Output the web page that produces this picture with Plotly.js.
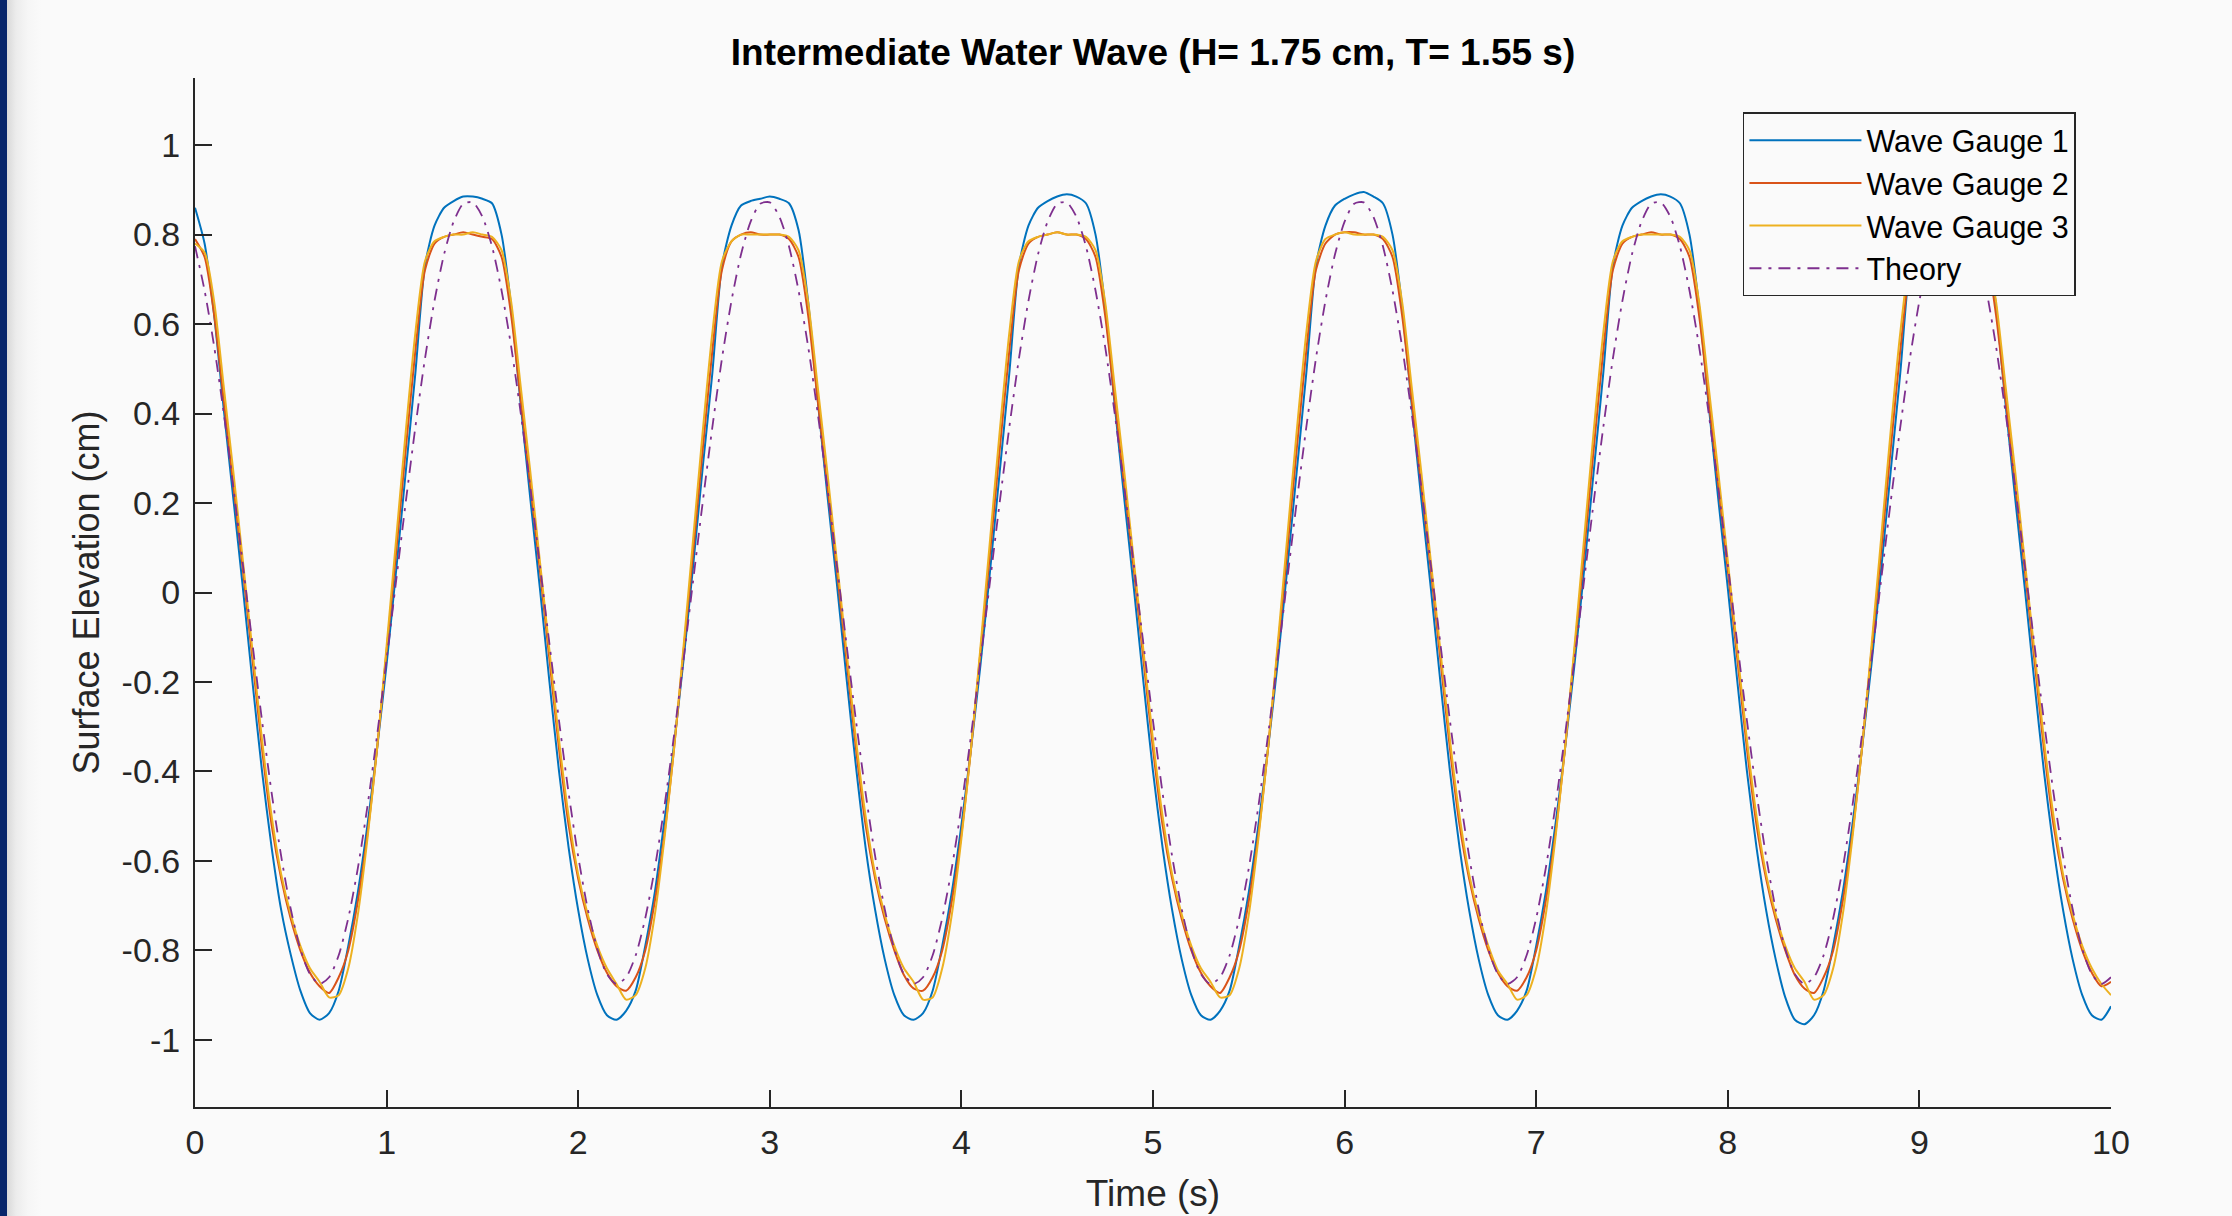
<!DOCTYPE html>
<html>
<head>
<meta charset="utf-8">
<script src="https://cdn.plot.ly/plotly-3.0.1.min.js"></script>
<style>
  html, body { margin: 0; padding: 0; }
  body {
    width: 2232px; height: 1216px; overflow: hidden;
    background: linear-gradient(to right, #08266b 0px, #08266b 7px, #d9d9d9 7px, #ececec 16px, #f6f6f6 28px, #fafafa 42px, #fafafa 100%);
  }
  #chart { width: 2232px; height: 1216px; }
</style>
</head>
<body>
<div id="chart"></div>
<script>
const sampleStep = 0.05;

const gauge1 = [
  0.86, 0.78, 0.62, 0.41, 0.21, 0.01, -0.20, -0.40, -0.57, -0.71, -0.81, -0.89, -0.94,
  -0.955, -0.94, -0.89, -0.79, -0.67, -0.52, -0.35, -0.16, 0.05, 0.27, 0.49, 0.73, 0.82, 0.86, 0.875, 0.885, 0.885, 0.88, 0.87, 0.80, 0.64, 0.42, 0.21, 0.01, -0.20, -0.40, -0.57, -0.71, -0.82, -0.90, -0.945,
  -0.955, -0.935, -0.89, -0.79, -0.67, -0.51, -0.34, -0.15, 0.06, 0.28, 0.49, 0.73, 0.82, 0.865, 0.875, 0.88, 0.885, 0.88, 0.87, 0.81, 0.65, 0.43, 0.22, 0.02, -0.19, -0.39, -0.57, -0.71, -0.82, -0.90, -0.945,
  -0.955, -0.94, -0.89, -0.79, -0.67, -0.52, -0.35, -0.16, 0.05, 0.27, 0.49, 0.73, 0.82, 0.86, 0.875, 0.885, 0.89, 0.885, 0.87, 0.80, 0.64, 0.42, 0.21, 0.01, -0.20, -0.40, -0.57, -0.71, -0.82, -0.90, -0.945,
  -0.955, -0.935, -0.89, -0.79, -0.67, -0.52, -0.35, -0.16, 0.05, 0.27, 0.49, 0.73, 0.82, 0.865, 0.88, 0.89, 0.895, 0.885, 0.87, 0.80, 0.64, 0.42, 0.21, 0.01, -0.20, -0.40, -0.57, -0.71, -0.82, -0.90, -0.945,
  -0.955, -0.935, -0.89, -0.79, -0.67, -0.52, -0.35, -0.16, 0.05, 0.27, 0.49, 0.73, 0.82, 0.86, 0.875, 0.885, 0.89, 0.885, 0.87, 0.80, 0.64, 0.42, 0.21, 0.01, -0.20, -0.40, -0.57, -0.71, -0.82, -0.905, -0.955,
  -0.965, -0.945, -0.89, -0.79, -0.67, -0.52, -0.35, -0.16, 0.05, 0.27, 0.49, 0.73, 0.82, 0.86, 0.875, 0.885, 0.89, 0.885, 0.87, 0.80, 0.64, 0.42, 0.21, 0.01, -0.20, -0.40, -0.57, -0.71, -0.82, -0.90, -0.945,
  -0.955, -0.925
];

const gauge2 = [
  0.79, 0.75, 0.62, 0.43, 0.24, 0.05, -0.15, -0.35, -0.52, -0.64, -0.73, -0.80, -0.85,
  -0.88, -0.895, -0.86, -0.80, -0.69, -0.54, -0.35, -0.13, 0.09, 0.32, 0.54, 0.72, 0.78, 0.795, 0.80, 0.805, 0.80, 0.795, 0.79, 0.75, 0.62, 0.43, 0.24, 0.05, -0.15, -0.35, -0.52, -0.64, -0.73, -0.80, -0.85,
  -0.88, -0.89, -0.86, -0.80, -0.69, -0.54, -0.35, -0.13, 0.09, 0.32, 0.54, 0.72, 0.785, 0.80, 0.805, 0.80, 0.80, 0.80, 0.79, 0.75, 0.62, 0.43, 0.24, 0.05, -0.15, -0.35, -0.52, -0.64, -0.73, -0.80, -0.855,
  -0.885, -0.89, -0.86, -0.80, -0.69, -0.54, -0.35, -0.13, 0.09, 0.32, 0.54, 0.72, 0.78, 0.795, 0.80, 0.805, 0.80, 0.80, 0.79, 0.75, 0.62, 0.43, 0.24, 0.05, -0.15, -0.35, -0.52, -0.64, -0.73, -0.80, -0.85,
  -0.88, -0.895, -0.86, -0.80, -0.69, -0.54, -0.35, -0.13, 0.09, 0.32, 0.54, 0.72, 0.78, 0.80, 0.805, 0.805, 0.80, 0.80, 0.79, 0.75, 0.62, 0.43, 0.24, 0.05, -0.15, -0.35, -0.52, -0.64, -0.73, -0.80, -0.85,
  -0.88, -0.89, -0.86, -0.80, -0.69, -0.54, -0.35, -0.13, 0.09, 0.32, 0.54, 0.72, 0.78, 0.795, 0.80, 0.805, 0.80, 0.80, 0.79, 0.75, 0.62, 0.43, 0.24, 0.05, -0.15, -0.35, -0.52, -0.64, -0.73, -0.80, -0.855,
  -0.885, -0.895, -0.86, -0.80, -0.69, -0.54, -0.35, -0.13, 0.09, 0.32, 0.54, 0.72, 0.78, 0.795, 0.80, 0.80, 0.80, 0.80, 0.79, 0.75, 0.62, 0.43, 0.24, 0.05, -0.15, -0.35, -0.52, -0.64, -0.73, -0.80, -0.85,
  -0.88, -0.87
];

const gauge3 = [
  0.78, 0.76, 0.65, 0.46, 0.27, 0.07, -0.13, -0.33, -0.50, -0.63, -0.72, -0.79, -0.84,
  -0.87, -0.905, -0.90, -0.84, -0.72, -0.55, -0.35, -0.12, 0.12, 0.36, 0.58, 0.74, 0.785, 0.795, 0.80, 0.80, 0.805, 0.80, 0.795, 0.765, 0.65, 0.46, 0.27, 0.07, -0.13, -0.33, -0.50, -0.63, -0.72, -0.79, -0.84,
  -0.875, -0.91, -0.90, -0.84, -0.72, -0.55, -0.35, -0.12, 0.12, 0.36, 0.58, 0.74, 0.785, 0.80, 0.80, 0.80, 0.80, 0.80, 0.795, 0.765, 0.65, 0.46, 0.27, 0.07, -0.13, -0.33, -0.50, -0.63, -0.72, -0.79, -0.84,
  -0.87, -0.91, -0.905, -0.84, -0.72, -0.55, -0.35, -0.12, 0.12, 0.36, 0.58, 0.74, 0.785, 0.795, 0.80, 0.805, 0.80, 0.80, 0.795, 0.765, 0.65, 0.46, 0.27, 0.07, -0.13, -0.33, -0.50, -0.63, -0.72, -0.79, -0.84,
  -0.87, -0.905, -0.90, -0.84, -0.72, -0.55, -0.35, -0.12, 0.12, 0.36, 0.58, 0.74, 0.79, 0.80, 0.805, 0.80, 0.80, 0.80, 0.795, 0.765, 0.65, 0.46, 0.27, 0.07, -0.13, -0.33, -0.50, -0.63, -0.72, -0.79, -0.845,
  -0.875, -0.91, -0.90, -0.84, -0.72, -0.55, -0.35, -0.12, 0.12, 0.36, 0.58, 0.74, 0.785, 0.795, 0.80, 0.80, 0.80, 0.80, 0.795, 0.765, 0.65, 0.46, 0.27, 0.07, -0.13, -0.33, -0.50, -0.63, -0.72, -0.79, -0.84,
  -0.87, -0.91, -0.90, -0.84, -0.72, -0.55, -0.35, -0.12, 0.12, 0.36, 0.58, 0.74, 0.785, 0.795, 0.80, 0.80, 0.80, 0.80, 0.795, 0.765, 0.65, 0.46, 0.27, 0.07, -0.13, -0.33, -0.50, -0.63, -0.72, -0.79, -0.84,
  -0.875, -0.90
];

const theory = [
  0.774, 0.675, 0.550, 0.401, 0.236, 0.062, -0.115, -0.287, -0.448, -0.590, -0.708, -0.797, -0.853,
  -0.875, -0.860, -0.811, -0.728, -0.616, -0.478, -0.320, -0.150, 0.027, 0.202, 0.369, 0.522, 0.652, 0.756, 0.829, 0.869, 0.872, 0.840, 0.774, 0.675, 0.550, 0.401, 0.236, 0.062, -0.115, -0.287, -0.448, -0.590, -0.708, -0.797, -0.853,
  -0.875, -0.860, -0.811, -0.728, -0.616, -0.478, -0.320, -0.150, 0.027, 0.202, 0.369, 0.522, 0.652, 0.756, 0.829, 0.869, 0.872, 0.840, 0.774, 0.675, 0.550, 0.401, 0.236, 0.062, -0.115, -0.287, -0.448, -0.590, -0.708, -0.797, -0.853,
  -0.875, -0.860, -0.811, -0.728, -0.616, -0.478, -0.320, -0.150, 0.027, 0.202, 0.369, 0.522, 0.652, 0.756, 0.829, 0.869, 0.872, 0.840, 0.774, 0.675, 0.550, 0.401, 0.236, 0.062, -0.115, -0.287, -0.448, -0.590, -0.708, -0.797, -0.853,
  -0.875, -0.860, -0.811, -0.728, -0.616, -0.478, -0.320, -0.150, 0.027, 0.202, 0.369, 0.522, 0.652, 0.756, 0.829, 0.869, 0.872, 0.840, 0.774, 0.675, 0.550, 0.401, 0.236, 0.062, -0.115, -0.287, -0.448, -0.590, -0.708, -0.797, -0.853,
  -0.875, -0.860, -0.811, -0.728, -0.616, -0.478, -0.320, -0.150, 0.027, 0.202, 0.369, 0.522, 0.652, 0.756, 0.829, 0.869, 0.872, 0.840, 0.774, 0.675, 0.550, 0.401, 0.236, 0.062, -0.115, -0.287, -0.448, -0.590, -0.708, -0.797, -0.853,
  -0.875, -0.860, -0.811, -0.728, -0.616, -0.478, -0.320, -0.150, 0.027, 0.202, 0.369, 0.522, 0.652, 0.756, 0.829, 0.869, 0.872, 0.840, 0.774, 0.675, 0.550, 0.401, 0.236, 0.062, -0.115, -0.287, -0.448, -0.590, -0.708, -0.797, -0.853,
  -0.875, -0.860
];

const seriesNames = ["Wave Gauge 1", "Wave Gauge 2", "Wave Gauge 3", "Theory"];
const xTickValues = [0, 1, 2, 3, 4, 5, 6, 7, 8, 9, 10];
const yTickValues = [-1, -0.8, -0.6, -0.4, -0.2, 0, 0.2, 0.4, 0.6, 0.8, 1];
const yTickLabels = ["-1", "-0.8", "-0.6", "-0.4", "-0.2", "0", "0.2", "0.4", "0.6", "0.8", "1"];
const chartTitle = "Intermediate Water Wave (H= 1.75 cm, T= 1.55 s)";
const xTitle = "Time (s)";
const yTitle = "Surface Elevation (cm)";

// ---- drawing ----
const time = gauge1.map((_, i) => Math.round(i * sampleStep * 100) / 100);
const colors = ["#0072BD", "#D95319", "#EDB120", "#7E2F8E"];
const FONT = "'Liberation Sans', Arial, Helvetica, sans-serif";
const axisColor = "#262626";

const traces = [gauge1, gauge2, gauge3, theory].map((ys, i) => ({
  type: "scatter",
  mode: "lines",
  x: time,
  y: ys,
  name: seriesNames[i],
  line: {
    color: colors[i],
    width: i === 3 ? 1.8 : 2,
    shape: "spline",
    smoothing: 0.7,
    dash: i === 3 ? "12px,7px,3px,7px" : "solid"
  }
}));

const layout = {
  width: 2232,
  height: 1216,
  margin: { l: 195, r: 121, t: 78, b: 109, pad: 0 },
  paper_bgcolor: "rgba(0,0,0,0)",
  plot_bgcolor: "rgba(0,0,0,0)",
  font: { family: FONT, color: axisColor, size: 34 },
  title: {
    text: "<b>" + chartTitle + "</b>",
    font: { family: FONT, size: 37, color: "#000000" },
    x: 0.5, xref: "paper", xanchor: "center",
    y: 1 - 52 / 1216, yref: "container", yanchor: "middle"
  },
  showlegend: true,
  legend: {
    x: 0.9817, xanchor: "right",
    y: 0.9665, yanchor: "top",
    bgcolor: "#fafafa",
    bordercolor: axisColor,
    borderwidth: 1.5,
    font: { family: FONT, size: 30.5, color: "#000000" },
    itemwidth: 112,
    tracegroupgap: 0
  },
  xaxis: {
    range: [0, 10],
    tickvals: xTickValues,
    ticktext: xTickValues.map(String),
    ticks: "inside",
    ticklen: 17,
    tickwidth: 1.5,
    tickcolor: axisColor,
    showline: true,
    linecolor: axisColor,
    linewidth: 2,
    mirror: false,
    showgrid: false,
    zeroline: false,
    tickfont: { family: FONT, size: 34, color: axisColor },
    ticklabelstandoff: 4,
    title: { text: xTitle, font: { family: FONT, size: 37, color: axisColor }, standoff: 20 },
    automargin: false
  },
  yaxis: {
    range: [-1.15, 1.15],
    tickvals: yTickValues,
    ticktext: yTickLabels,
    ticks: "inside",
    ticklen: 17,
    tickwidth: 1.5,
    tickcolor: axisColor,
    showline: true,
    linecolor: axisColor,
    linewidth: 2,
    mirror: false,
    showgrid: false,
    zeroline: false,
    tickfont: { family: FONT, size: 34, color: axisColor },
    ticklabelstandoff: 6,
    title: { text: yTitle, font: { family: FONT, size: 36, color: axisColor }, standoff: 11 },
    automargin: false
  }
};

Plotly.newPlot("chart", traces, layout, { displayModeBar: false, responsive: false });
</script>
</body>
</html>
